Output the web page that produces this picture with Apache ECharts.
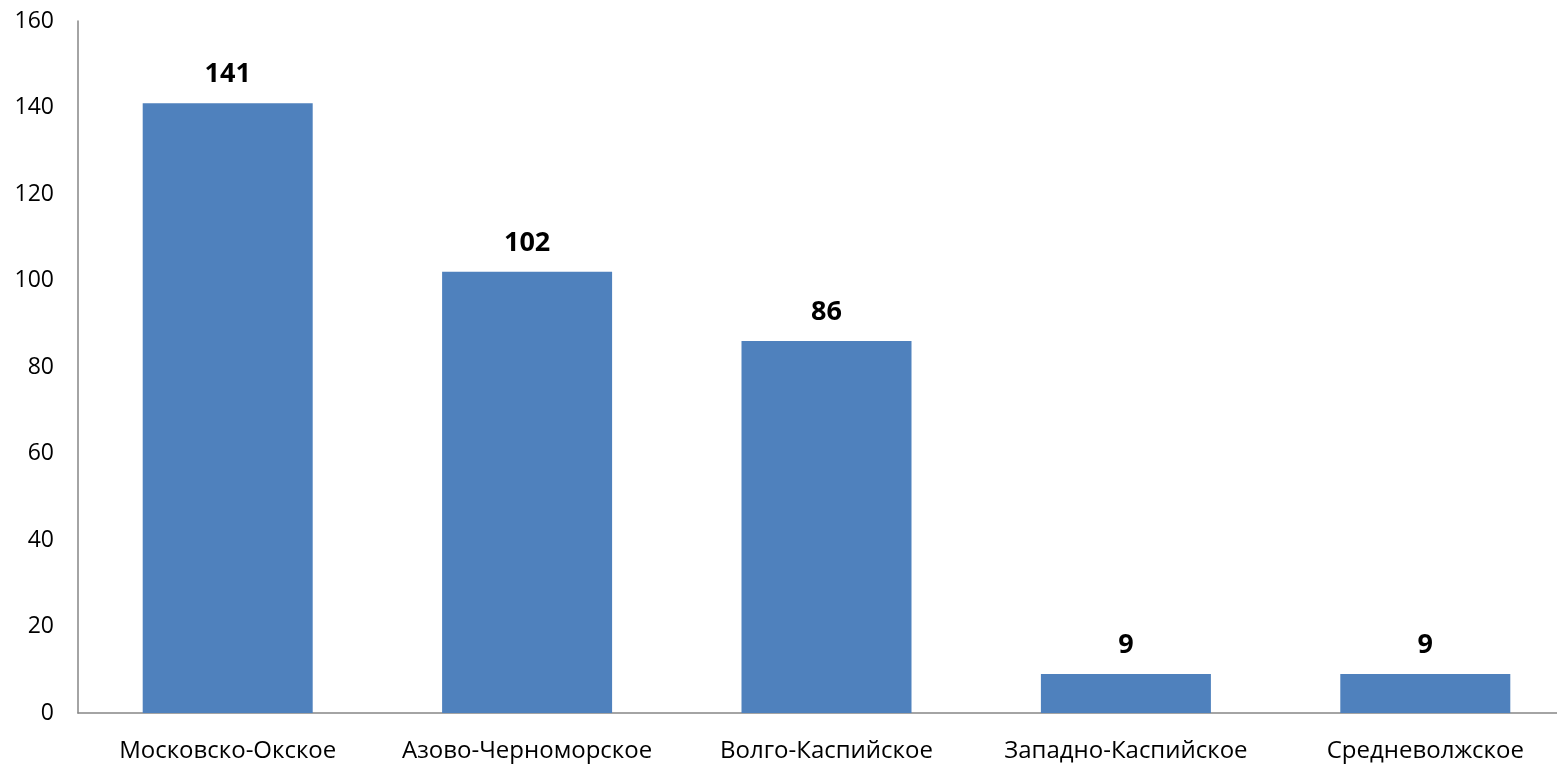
<!DOCTYPE html>
<html><head><meta charset="utf-8">
<script src="https://cdn.jsdelivr.net/npm/echarts@6/dist/echarts.min.js"></script>
<style>html,body{margin:0;padding:0;background:#fff;overflow:hidden}#c{width:1575px;height:764px}</style>
</head><body><div id="c"></div>
<script>
const categories = ["Московско-Окское","Азово-Черноморское","Волго-Каспийское","Западно-Каспийское","Средневолжское"];
const values = [141,102,86,9,9];
const yTicks = [0,20,40,60,80,100,120,140,160];
const chart = echarts.init(document.getElementById('c'));
chart.setOption({
  animation:false,
  grid:{left:78,right:0,top:21,bottom:51,containLabel:false},
  xAxis:{type:'category',data:categories,
    axisLine:{lineStyle:{color:'#868686',width:1.5}},axisTick:{show:false},
    axisLabel:{color:'#000',fontSize:24,fontFamily:'Open Sans',margin:26,interval:0}},
  yAxis:{type:'value',min:yTicks[0],max:yTicks[yTicks.length-1],interval:20,
    axisLine:{show:true,lineStyle:{color:'#868686',width:1.5}},axisTick:{show:false},splitLine:{show:false},
    axisLabel:{color:'#000',fontSize:23,fontFamily:'Open Sans',margin:24}},
  series:[{type:'bar',data:values,barWidth:170,itemStyle:{color:'#4F81BD'},
    label:{show:true,position:'top',distance:15,color:'#000',fontSize:27,fontWeight:'bold',fontFamily:'Open Sans'}}]
});
</script></body></html>
